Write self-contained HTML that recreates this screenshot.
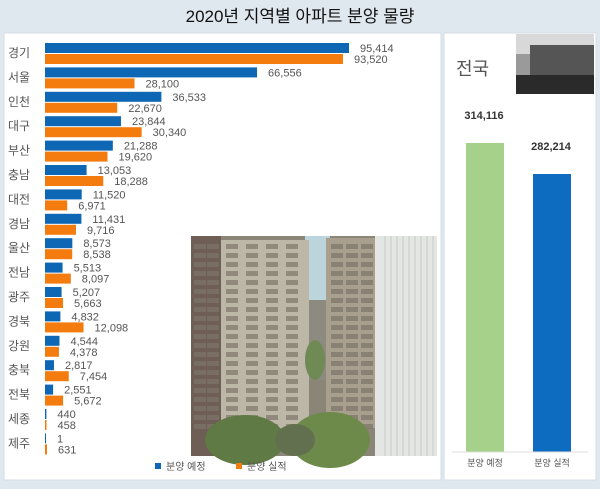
<!DOCTYPE html>
<html><head><meta charset="utf-8"><style>
body{margin:0;width:600px;height:484px;overflow:hidden;background:#dfe7ef;font-family:"Liberation Sans","Noto Sans CJK KR",sans-serif}
</style></head><body>
<svg width="600" height="484" xmlns="http://www.w3.org/2000/svg" font-family="Liberation Sans, Noto Sans CJK KR, sans-serif">
<rect width="600" height="484" fill="#dfe7ef"/>
<text x="300" y="22" text-anchor="middle" font-size="17" fill="#111">2020년 지역별 아파트 분양 물량</text>
<rect x="4" y="33" width="437" height="447" fill="#fff" stroke="#d4dce4"/>
<rect x="444" y="33" width="152" height="447" fill="#fff" stroke="#d4dce4"/>
<g font-size="11" fill="#555" id="rows"></g>
<!-- photo -->
<g>
<rect x="191" y="236" width="246" height="220" fill="#8a8577"/>
<rect x="305" y="236" width="25" height="90" fill="#bcd4dc"/>
<rect x="305" y="300" width="25" height="80" fill="#8d8a80"/>
<rect x="191" y="236" width="30" height="220" fill="#6e5e56"/>
<rect x="221" y="240" width="88" height="195" fill="#bdb7a8"/>
<rect x="326" y="238" width="55" height="190" fill="#a89f8e"/>
<rect x="375" y="236" width="62" height="220" fill="#e4e6e3"/>
<g fill="#7d766a" opacity=".7" id="win"></g>
<g stroke="#c9cbc8" stroke-width="1" id="col"></g>
<ellipse cx="245" cy="440" rx="40" ry="25" fill="#5f7a45"/>
<ellipse cx="330" cy="440" rx="40" ry="28" fill="#6d8a4a"/>
<ellipse cx="295" cy="440" rx="20" ry="16" fill="#62704f"/>
<ellipse cx="315" cy="360" rx="10" ry="20" fill="#708a55"/>
</g>
<!-- legend -->
<rect x="155" y="463" width="6" height="6" fill="#0e67b5"/>
<text x="166" y="470" font-size="10" fill="#555">분양 예정</text>
<rect x="236" y="463" width="6" height="6" fill="#f47c0f"/>
<text x="247" y="470" font-size="10" fill="#555">분양 실적</text>
<!-- right panel -->
<text x="456" y="75" font-size="18" fill="#555">전국</text>
<rect x="516" y="34" width="78" height="60" fill="#9a9a9a"/>
<rect x="516" y="34" width="78" height="20" fill="#d8d8d8"/>
<rect x="530" y="45" width="64" height="30" fill="#555"/>
<rect x="516" y="75" width="78" height="19" fill="#2a2a2a"/>
<text x="484" y="119" text-anchor="middle" font-size="11" font-weight="bold" fill="#333">314,116</text>
<text x="551" y="150" text-anchor="middle" font-size="11" font-weight="bold" fill="#333">282,214</text>
<rect x="466" y="143" width="38" height="309" fill="#a5d18b"/>
<rect x="533" y="174" width="38" height="278" fill="#0e6cc0"/>
<line x1="452" y1="452" x2="588" y2="452" stroke="#ddd"/>
<text x="485" y="466" text-anchor="middle" font-size="9" fill="#555">분양 예정</text>
<text x="552" y="466" text-anchor="middle" font-size="9" fill="#555">분양 실적</text>
</svg>
<script>
const d=[["경기",95414,93520],["서울",66556,28100],["인천",36533,22670],["대구",23844,30340],["부산",21288,19620],["충남",13053,18288],["대전",11520,6971],["경남",11431,9716],["울산",8573,8538],["전남",5513,8097],["광주",5207,5663],["경북",4832,12098],["강원",4544,4378],["충북",2817,7454],["전북",2551,5672],["세종",440,458],["제주",1,631]];
const s=304/95414,ns="http://www.w3.org/2000/svg",g=document.getElementById("rows");
function el(t,a,txt){const e=document.createElementNS(ns,t);for(const k in a)e.setAttribute(k,a[k]);if(txt!==undefined)e.textContent=txt;g.appendChild(e);}
const f=n=>n.toLocaleString("en-US");
d.forEach((r,i)=>{const y=43+24.4*i;const w1=Math.max(r[1]*s,1),w2=Math.max(r[2]*s,1.5);
el("text",{x:8,y:y+14,"font-size":12,fill:"#555"},r[0]);
el("rect",{x:45,y:y,width:w1,height:10,fill:"#0e67b5"});
el("rect",{x:45,y:y+11,width:w2,height:10,fill:"#f47c0f"});
el("text",{x:45+Math.max(w1,0)+11,y:y+9},f(r[1]));
el("text",{x:45+w2+11,y:y+20},f(r[2]));});
const w=document.getElementById("win");
for(let y=244;y<430;y+=9){for(const x of [194,207,226,246,266,286,331,346,361]){const e=document.createElementNS(ns,"rect");e.setAttribute("x",x);e.setAttribute("y",y);e.setAttribute("width",12);e.setAttribute("height",5);w.appendChild(e);}}
const c=document.getElementById("col");
for(let x=385;x<437;x+=6){const e=document.createElementNS(ns,"line");e.setAttribute("x1",x);e.setAttribute("x2",x);e.setAttribute("y1",236);e.setAttribute("y2",456);c.appendChild(e);}
</script>
</body></html>
